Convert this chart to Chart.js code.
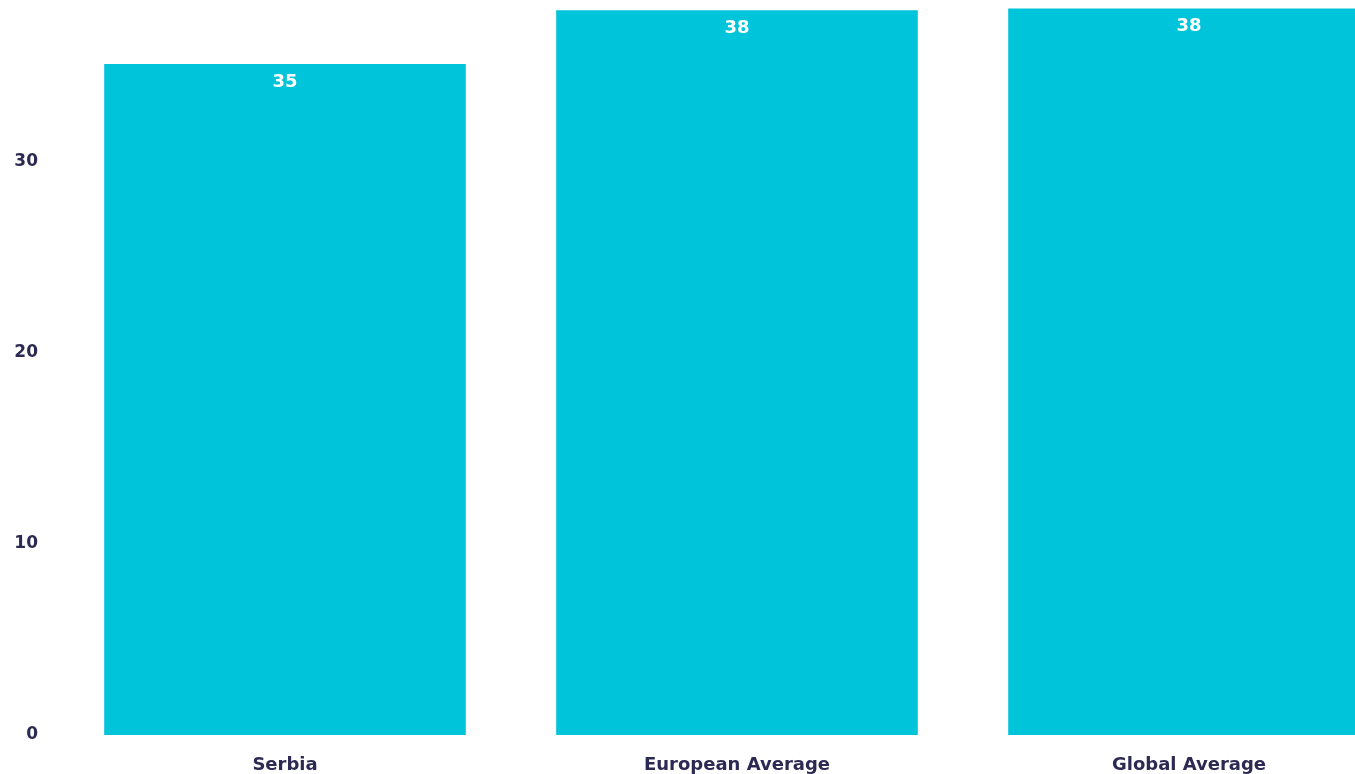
<!DOCTYPE html>
<html>
<head>
<meta charset="utf-8">
<script src="https://cdn.jsdelivr.net/npm/chart.js@4"></script>
<style>
  html, body { margin: 0; padding: 0; background: #fff; overflow: hidden; width: 1355px; height: 774px; }
  #wrap { position: absolute; top: -61px; left: 0; width: 1415px; height: 837px; }
</style>
</head>
<body>
<div id="wrap"><canvas id="grafico"></canvas></div>
<script>
const categorias = ["Serbia", "European Average", "Global Average"];
const valores = [35.1, 37.9, 38.0];
const ticksY = [0, 10, 20, 30, 40];

const colorBarra = "#00c4d9";
const colorTexto = "#2c2a52";
const fuente = "'DejaVu Sans'";

// etiquetas blancas dentro de cada barra
const etiquetas = {
  id: "etiquetas",
  afterDatasetsDraw(chart) {
    const ctx = chart.ctx;
    const meta = chart.getDatasetMeta(0);
    ctx.save();
    ctx.fillStyle = "#ffffff";
    ctx.font = "700 18px " + fuente;
    ctx.textAlign = "center";
    ctx.textBaseline = "middle";
    meta.data.forEach((bar, i) => {
      ctx.fillText(Math.round(valores[i]), bar.x, bar.y + 18);
    });
    ctx.restore();
  },
};

new Chart(document.getElementById("grafico"), {
  type: "bar",
  data: {
    labels: categorias,
    datasets: [
      {
        data: valores,
        backgroundColor: colorBarra,
        borderWidth: 0,
        barPercentage: 0.8,
        categoryPercentage: 1.0,
      },
    ],
  },
  options: {
    responsive: true,
    maintainAspectRatio: false,
    animation: false,
    layout: { padding: 0 },
    plugins: { legend: { display: false }, tooltip: { enabled: false } },
    scales: {
      x: {
        grid: { display: false, drawTicks: false },
        border: { display: false },
        ticks: {
          color: colorTexto,
          font: { family: fuente, weight: "700", size: 18 },
          padding: 20,
          maxRotation: 0,
        },
        afterFit(scale) {
          scale.height = 41;
        },
      },
      y: {
        min: 0,
        max: 40,
        grid: { display: false, drawTicks: false },
        border: { display: false },
        afterBuildTicks(scale) {
          scale.ticks = ticksY.map((v) => ({ value: v }));
        },
        ticks: {
          color: colorTexto,
          font: { family: fuente, weight: "700", size: 17 },
          padding: 21,
        },
        afterFit(scale) {
          scale.width = 59;
        },
      },
    },
  },
  plugins: [etiquetas],
});
</script>
</body>
</html>
